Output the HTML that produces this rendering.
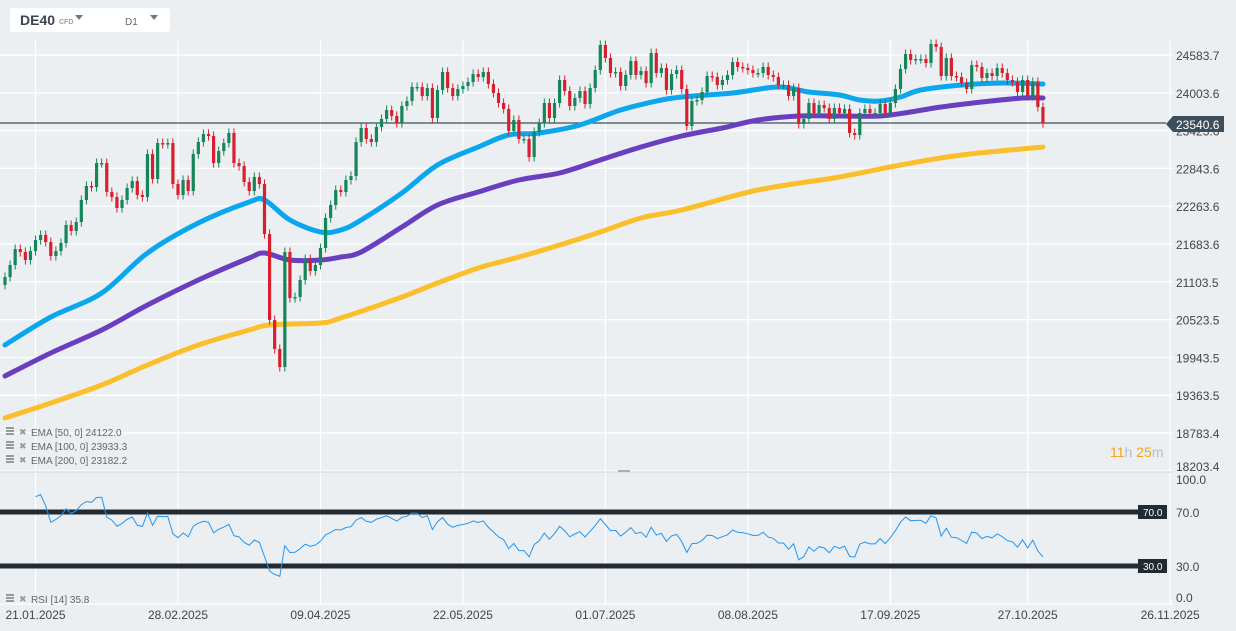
<!DOCTYPE html>
<html><head><meta charset="utf-8">
<style>
html,body{margin:0;padding:0;background:#eceff2;width:1236px;height:631px;overflow:hidden;font-family:"Liberation Sans",sans-serif;}
svg text{font-family:"Liberation Sans",sans-serif;}
</style></head>
<body>
<svg id="chart" width="1236" height="631" xmlns="http://www.w3.org/2000/svg">
<rect x="0" y="0" width="1236" height="631" fill="#eceff2"/>
<g id="grid"></g>
<g id="ema"></g>
<g id="candles"></g>
<g id="rsi"></g>
<g id="axes"></g>

<g>
<rect x="10" y="8" width="160" height="24" rx="3" fill="#ffffff"/>
<text x="20" y="25" font-size="14" font-weight="bold" fill="#3a4450">DE40</text>
<text x="59" y="24" font-size="7" font-weight="bold" fill="#9aa0a6">CFD</text>
<path d="M75 15 L83 15 L79 20 Z" fill="#777"/>
<text x="125" y="25" font-size="10" fill="#666">D1</text>
<path d="M150 15 L158 15 L154 20 Z" fill="#777"/>
</g>

<g>
<text x="1110" y="457" font-size="14"><tspan fill="#f5a31a">11</tspan><tspan fill="#b8bcc0">h </tspan><tspan fill="#f5a31a">25</tspan><tspan fill="#b8bcc0">m</tspan></text>
</g>

<g font-size="10" fill="#666">
<g><rect x="6" y="427" width="8" height="2" fill="#999"/><rect x="6" y="430" width="8" height="2" fill="#999"/><rect x="6" y="433" width="8" height="2" fill="#999"/><text x="19" y="435" fill="#999" font-size="9">✖</text><text x="31" y="436">EMA [50, 0] 24122.0</text></g>
<g><rect x="6" y="441" width="8" height="2" fill="#999"/><rect x="6" y="444" width="8" height="2" fill="#999"/><rect x="6" y="447" width="8" height="2" fill="#999"/><text x="19" y="449" fill="#999" font-size="9">✖</text><text x="31" y="450">EMA [100, 0] 23933.3</text></g>
<g><rect x="6" y="455" width="8" height="2" fill="#999"/><rect x="6" y="458" width="8" height="2" fill="#999"/><rect x="6" y="461" width="8" height="2" fill="#999"/><text x="19" y="463" fill="#999" font-size="9">✖</text><text x="31" y="464">EMA [200, 0] 23182.2</text></g>
<g><rect x="6" y="594" width="8" height="2" fill="#999"/><rect x="6" y="597" width="8" height="2" fill="#999"/><rect x="6" y="600" width="8" height="2" fill="#999"/><text x="19" y="602" fill="#999" font-size="9">✖</text><text x="31" y="603">RSI [14] 35.8</text></g>
</g>
<g id="plabel">
<path d="M1166 124 L1173 116 L1224 116 L1224 132 L1173 132 Z" fill="#3d4f5c"/>
<text x="1176" y="129" font-size="12" fill="#ffffff">23540.6</text>
</g>
</svg>
<script>
const closes=[21177,21361,21607,21561,21438,21576,21745,21822,21714,21500,21576,21699,21975,21883,22021,22359,22574,22558,22926,22926,22482,22405,22236,22359,22543,22650,22436,22405,23064,22681,23233,23218,23233,22604,22436,22666,22497,23064,23249,23372,23341,22926,23110,23233,23387,22926,22880,22635,22497,22711,22604,21837,20518,20073,19796,21561,20855,20870,21131,21453,21269,21361,21622,
22083,22282,22512,22482,22666,22727,23249,23464,23295,23249,23479,23602,23740,23648,23540,23801,23878,24093,24093,23955,24077,23617,24047,24323,24077,23955,24062,24108,24169,24292,24246,24323,24139,24001,23847,23755,23418,23586,23295,23295,23018,23402,23540,23847,23617,23847,24200,24031,23801,23924,24031,23832,24077,24353,24737,24538,24307,24323,24108,24277,24492,24277,24338,24154,24614,24307,24384,24047,24292,24353,
24062,23494,23878,23893,24016,24261,24246,24123,24200,24277,24476,24400,24384,24353,24307,24307,24400,24277,24246,24123,24123,23955,24077,23525,23602,23847,23694,23817,23770,23602,23770,23694,23755,23387,23356,23694,23755,23694,23694,23832,23694,23847,24062,24369,24599,24507,24522,24522,24461,24752,24706,24261,24538,24261,24246,24154,24062,24430,24400,24231,24307,24261,24384,24307,24200,24169,24016,24200,23955,24169,23786,23540];
const ema50Idx=[0,9,19,28,38,48,51,56,62,66,70,78,85,93,99,105,113,121,129,133,143,152,158,164,168,172,176,180,188,196,204];
const ema50=[20134,20563,20932,21546,22006,22328,22359,22052,21868,21898,22052,22466,22896,23172,23356,23387,23510,23740,23893,23939,24001,24093,24016,23970,23893,23878,23939,24047,24123,24154,24139];
const ema100Idx=[0,9,19,28,38,48,51,56,62,66,70,78,85,93,101,109,117,125,133,141,148,156,164,172,178,184,192,200,204];
const ema100=[19658,20011,20364,20748,21131,21469,21545,21438,21438,21484,21561,21944,22282,22482,22666,22773,22973,23172,23341,23464,23586,23648,23648,23648,23709,23786,23862,23924,23924];
const ema200Idx=[0,9,19,28,38,48,52,62,66,78,85,93,101,109,117,125,133,148,164,176,188,204];
const ema200=[19014,19244,19520,19827,20134,20364,20441,20471,20548,20871,21085,21315,21484,21668,21868,22083,22205,22512,22712,22896,23050,23172];
const priceTicks=[24583.7,24003.6,23423.6,22843.6,22263.6,21683.6,21103.5,20523.5,19943.5,19363.5,18783.4,18203.4];
const dateLabels=["21.01.2025","28.02.2025","09.04.2025","22.05.2025","01.07.2025","08.08.2025","17.09.2025","27.10.2025","26.11.2025"];
const dateIdx=[6,34,62,90,118,146,174,201,229];
const rsiLevels=[70,30];
const rsiTicks=[100,70,30,0];
const lastPrice=23540.6;

const NS="http://www.w3.org/2000/svg";
function mk(tag,attrs,parent,before){const e=document.createElementNS(NS,tag);for(const k in attrs)e.setAttribute(k,attrs[k]);if(before)parent.insertBefore(e,before);else parent.appendChild(e);return e;}
const X0=5,DX=5.088;
function xs(i){return X0+i*DX;}
function ys(v){return 55+(24583.7-v)*37.8/580;}
function yr(v){return 512+(70-v)*1.35;}

const grid=document.getElementById('grid');
priceTicks.forEach(v=>{const l=mk('line',{x1:0,x2:1173,y1:ys(v),y2:ys(v),stroke:'#ffffff','stroke-width':1.2},grid);

});
dateIdx.forEach(i=>{const l=mk('line',{x1:xs(i),x2:xs(i),y1:40,y2:604,stroke:'#ffffff','stroke-width':1.2},grid);

});
[0,100].forEach(v=>{const l=mk('line',{x1:0,x2:1173,y1:v==100?472:604,y2:v==100?472:604,stroke:v==100?'#d6d9dc':'#ffffff','stroke-width':1.2},grid);

});
const hnd=mk('rect',{x:618,y:470,width:12,height:2,fill:'#aab'},grid);



const emaG=document.getElementById('ema');
function smoothPath(pts){let d='M'+pts[0][0].toFixed(1)+' '+pts[0][1].toFixed(1);
for(let i=0;i<pts.length-1;i++){const p0=pts[Math.max(0,i-1)],p1=pts[i],p2=pts[i+1],p3=pts[Math.min(pts.length-1,i+2)];
const c1x=p1[0]+(p2[0]-p0[0])/6,c1y=p1[1]+(p2[1]-p0[1])/6,c2x=p2[0]-(p3[0]-p1[0])/6,c2y=p2[1]-(p3[1]-p1[1])/6;
d+=' C'+c1x.toFixed(1)+' '+c1y.toFixed(1)+' '+c2x.toFixed(1)+' '+c2y.toFixed(1)+' '+p2[0].toFixed(1)+' '+p2[1].toFixed(1);}
return d;}
function drawEma(idx,vals,color,name){const pts=idx.map((i,k)=>[xs(i),ys(vals[k])]);
const p=mk('path',{d:smoothPath(pts),fill:'none',stroke:color,'stroke-width':5,'stroke-linejoin':'round','stroke-linecap':'round'},emaG);

}
drawEma(ema200Idx,ema200,'#fbbf2c','ema-200-line');
drawEma(ema100Idx,ema100,'#6a3fbf','ema-100-line');
drawEma(ema50Idx,ema50,'#0aa6ee','ema-50-line');

const pl=mk('line',{x1:0,x2:1166,y1:ys(lastPrice),y2:ys(lastPrice),stroke:'#3d4f5c','stroke-width':1.2},grid);



const cg=document.getElementById('candles');
closes.forEach((c,i)=>{const o=i?closes[i-1]:c-120;const up=c>=o;const col=up?'#15855a':'#d7202e';
const hi=Math.max(o,c)+70,lo=Math.min(o,c)-70;const x=xs(i);
const w=mk('line',{x1:x,x2:x,y1:ys(hi),y2:ys(lo),stroke:col,'stroke-width':1},cg);


const top=ys(Math.max(o,c)),bot=ys(Math.min(o,c));
const b=mk('rect',{x:x-1.6,y:top,width:3.2,height:Math.max(1.5,bot-top),fill:col},cg);

});

// RSI(14) computed from closes
const rsiVals=[];let ag=0,al=0;
for(let i=1;i<closes.length;i++){const ch=closes[i]-closes[i-1];const g=Math.max(ch,0),l=Math.max(-ch,0);
if(i<=14){ag+=g/14;al+=l/14;}else{ag=(ag*13+g)/14;al=(al*13+l)/14;}
if(i>=6){rsiVals.push([i,al===0?100:100-100/(1+ag/al)]);}}
const rg=document.getElementById('rsi');
rsiLevels.forEach(v=>{const l=mk('line',{x1:0,x2:1138,y1:yr(v),y2:yr(v),stroke:'#222b31','stroke-width':5},rg);


const bx=mk('rect',{x:1138,y:yr(v)-7,width:29,height:14,fill:'#222b31'},rg);


const t=mk('text',{x:1143,y:yr(v)+4,'font-size':10,fill:'#ffffff'},rg);t.textContent=v.toFixed(1);

});
let rd='';rsiVals.forEach((p,k)=>{rd+=(k?'L':'M')+xs(p[0]).toFixed(1)+' '+yr(p[1]).toFixed(1)+' ';});
const rl=mk('path',{d:rd,fill:'none',stroke:'#2196f3','stroke-width':1},rg);



const ax=document.getElementById('axes');
priceTicks.forEach((v,k)=>{const t=mk('text',{x:1176,y:(k==priceTicks.length-1?466:ys(v))+5,'font-size':12,fill:'#444'},ax);t.textContent=v.toFixed(1);

});
const rsiY={100:484,70:517,30:571,0:602};
rsiTicks.forEach(v=>{const t=mk('text',{x:1176,y:rsiY[v],'font-size':12,fill:'#444'},ax);t.textContent=v.toFixed(1);

});
dateLabels.forEach((s,k)=>{const t=mk('text',{x:xs(dateIdx[k]),y:619,'font-size':12,fill:'#444','text-anchor':'middle'},ax);t.textContent=s;

});
</script>
</body></html>
